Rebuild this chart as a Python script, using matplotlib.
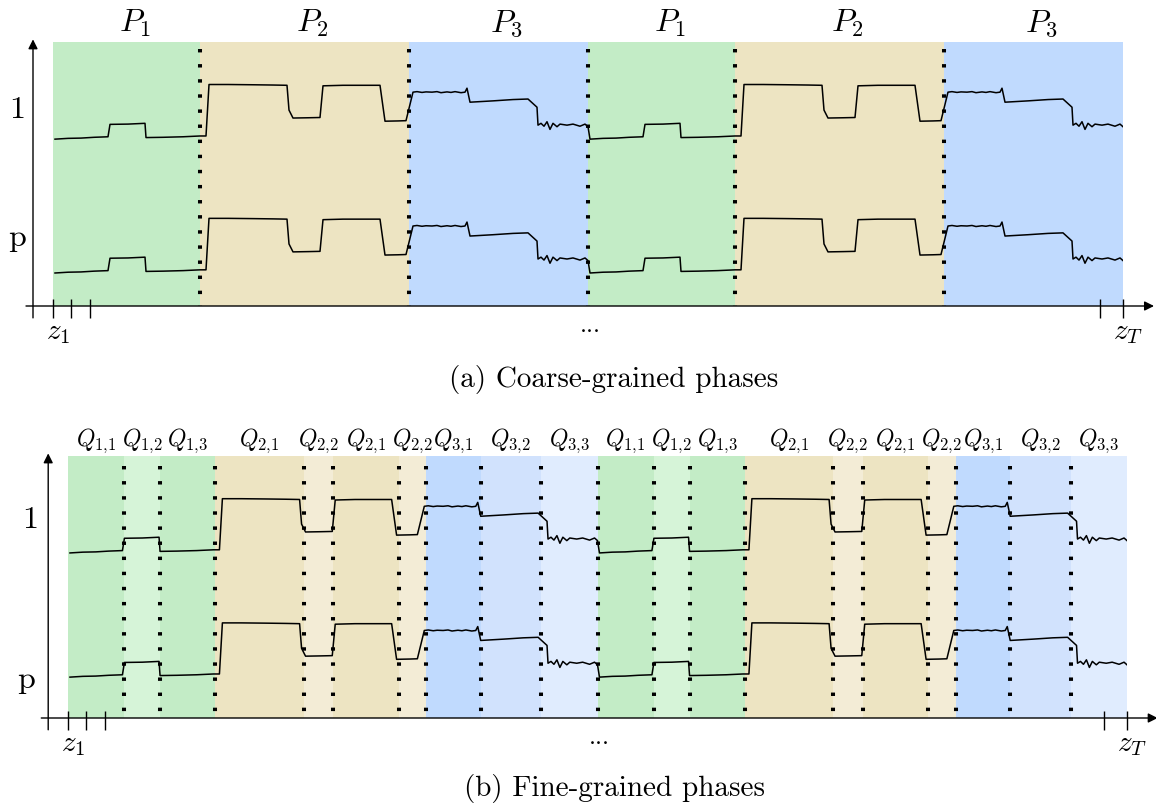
import matplotlib.pyplot as plt

plt.rcParams["mathtext.fontset"] = "cm"
plt.rcParams["font.family"] = "cmr10"
plt.rcParams["axes.formatter.use_mathtext"] = True

# one cycle of the trace: time step and height above the row baseline
CYCLE_T = [2, 15, 28, 41, 55, 57, 75, 92, 93, 110, 130, 147, 153,
           156, 175, 200, 220, 234, 236, 240, 255, 267, 270, 290, 310, 327,
           332, 345, 353, 360, 364, 369, 373, 379, 384, 388, 394, 398, 402,
           408, 412, 414, 417, 440, 460, 475, 484, 485, 488, 491, 494, 497,
           500, 504, 507, 514, 520, 527, 532, 535]
CYCLE_V = [-0.004, -0.001, 0.000, 0.003, 0.005, 0.052, 0.053, 0.056, 0.002,
           0.003, 0.005, 0.008, 0.008,
           0.203, 0.203, 0.202, 0.201, 0.200, 0.106, 0.076, 0.077, 0.078,
           0.198, 0.200, 0.200, 0.200,
           0.064, 0.065, 0.066, 0.174, 0.176, 0.173, 0.175, 0.174, 0.176,
           0.172, 0.175, 0.173, 0.176, 0.172, 0.174, 0.189, 0.136, 0.141,
           0.146, 0.148, 0.117, 0.049, 0.056, 0.045, 0.062, 0.033, 0.056,
           0.043, 0.053, 0.049, 0.053, 0.045, 0.053, 0.043]
CYCLE_LEN = 535
N_CYCLES = 2

# coarse phases within one cycle
P_NAMES = [r"$P_1$", r"$P_2$", r"$P_3$"]
P_EDGES = [0, 147, 356, 535]
P_COLORS = ["#c3ecc6", "#ede4c2", "#c0dafe"]

# fine phases within one cycle
Q_NAMES = [r"$Q_{1{,}1}$", r"$Q_{1{,}2}$", r"$Q_{1{,}3}$", r"$Q_{2{,}1}$",
           r"$Q_{2{,}2}$", r"$Q_{2{,}1}$", r"$Q_{2{,}2}$", r"$Q_{3{,}1}$",
           r"$Q_{3{,}2}$", r"$Q_{3{,}3}$"]
Q_EDGES = [0, 57, 93, 149, 238, 268, 334, 362, 417, 478, 535]
Q_COLORS = ["#c3ecc6", "#d6f4d8", "#c3ecc6", "#ede4c2", "#f3ecd6",
            "#ede4c2", "#f3ecd6", "#c0dafe", "#d1e2fd", "#e0ecfe"]

ROW_LABELS = ["1", "p"]
ROW_BASE_A = [0.636, 0.129]
ROW_BASE_B = [0.634, 0.160]

START_TICKS = [0, 18, 37]
END_TICKS = [1047, 1070]

# full trace = the cycle repeated
trace_t = [c * CYCLE_LEN + t for c in range(N_CYCLES) for t in CYCLE_T]
trace_v = CYCLE_V * N_CYCLES
total = CYCLE_LEN * N_CYCLES


def draw_panel(ax, names, edges, colors, bases, label_size, label_dx,
               label_xy, dot_top):
    ax.set_xlim(0, total)
    ax.set_ylim(0, 1)
    ax.axis("off")

    # shaded phases, dotted borders and phase names
    for c in range(N_CYCLES):
        off = c * CYCLE_LEN
        for i, name in enumerate(names):
            a, b = edges[i] + off, edges[i + 1] + off
            ax.axvspan(a, b, color=colors[i], lw=0, zorder=0)
            ax.text((a + b) / 2 + label_dx, 1.038, name, ha="center",
                    va="baseline", fontsize=label_size)
            if a > 0:
                ax.plot([a, a], [dot_top, 0], color="black", lw=2.9,
                        linestyle=(0, (0.85, 2.9)), dash_capstyle="butt",
                        zorder=2)

    # the two rows of traces
    for base in bases:
        ax.plot(trace_t, [base + v for v in trace_v], color="black", lw=1.1,
                zorder=3)
    for lab, (lx, ly) in zip(ROW_LABELS, label_xy):
        ax.text(lx, ly, lab, ha="center", va="baseline", fontsize=23)

    # time axis and value axis
    ax.annotate("", xy=(total + 31, 0), xytext=(-27, 0),
                arrowprops=dict(arrowstyle="-|>", lw=1.0, color="black",
                                mutation_scale=14, shrinkA=0, shrinkB=0),
                annotation_clip=False)
    ax.annotate("", xy=(-20, 1.01), xytext=(-20, -0.045),
                arrowprops=dict(arrowstyle="-|>", lw=1.0, color="black",
                                mutation_scale=14, shrinkA=0, shrinkB=0),
                annotation_clip=False)
    ax.vlines(START_TICKS + END_TICKS, -0.045, 0.025, color="black", lw=1.0,
              clip_on=False)
    ax.text(5, -0.125, r"$z_1$", ha="center", va="baseline", fontsize=21)
    ax.text(total + 5, -0.125, r"$z_T$", ha="center", va="baseline",
            fontsize=21)
    ax.text(total / 2 + 2, -0.10, "...", ha="center", va="baseline",
            fontsize=18)


W, H = 1156, 805
fig = plt.figure(figsize=(W / 100, H / 100), dpi=100)

ax_a = fig.add_axes([53 / W, (H - 306) / H, 1070 / W, 264 / H])
draw_panel(ax_a, P_NAMES, P_EDGES, P_COLORS, ROW_BASE_A, 23, 8,
           [(-36, 0.712), (-36, 0.227)], 0.975)

ax_b = fig.add_axes([68 / W, (H - 718) / H, 1059 / W, 262 / H])
draw_panel(ax_b, Q_NAMES, Q_EDGES, Q_COLORS, ROW_BASE_B, 17, 0,
           [(-38, 0.725), (-42, 0.115)], 0.963)

fig.text(614 / W, (H - 387) / H, "(a) Coarse-grained phases", ha="center",
         va="baseline", fontsize=21)
fig.text(615 / W, (H - 796) / H, "(b) Fine-grained phases", ha="center",
         va="baseline", fontsize=21)

fig.savefig("out.png", dpi=100)
